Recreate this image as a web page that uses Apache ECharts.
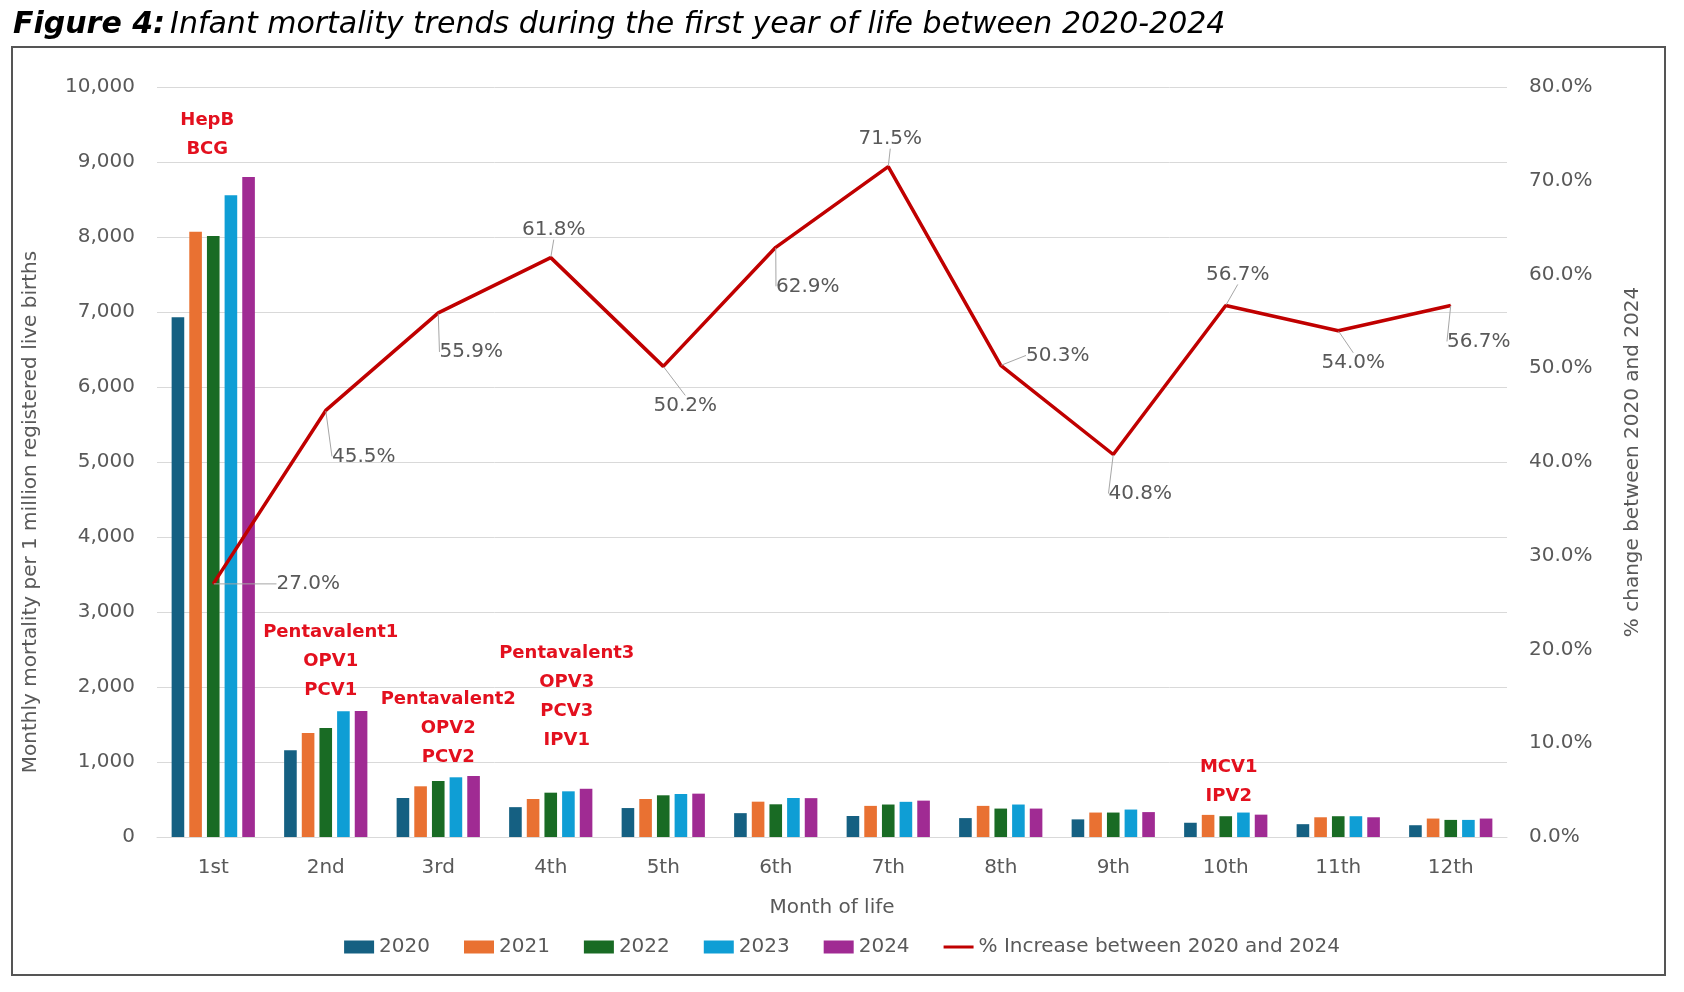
<!DOCTYPE html>
<html>
<head>
<meta charset="utf-8">
<script src="https://cdn.jsdelivr.net/npm/echarts@6/dist/echarts.min.js"></script>
<style>
  html, body { margin: 0; padding: 0; background: #fff; }
  #chart { width: 1684px; height: 992px; }
</style>
</head>
<body>
<div id="chart"></div>
<script>
// Months of life
var months = ['1st', '2nd', '3rd', '4th', '5th', '6th', '7th', '8th', '9th', '10th', '11th', '12th'];

// Monthly mortality per 1 million registered live births
var y2020 = [6930, 1158, 520, 398, 386, 318, 280, 252, 235, 190, 171, 157];
var y2021 = [8070, 1387, 676, 507, 507, 471, 415, 415, 326, 295, 263, 246];
var y2022 = [8014, 1453, 747, 591, 556, 436, 433, 379, 326, 277, 277, 228];
var y2023 = [8557, 1676, 796, 609, 573, 520, 469, 433, 366, 326, 277, 228];
var y2024 = [8800, 1680, 813, 643, 578, 518, 485, 379, 332, 298, 263, 246];

// % increase between 2020 and 2024
var pctIncrease = [27.0, 45.5, 55.9, 61.8, 50.2, 62.9, 71.5, 50.3, 40.8, 56.7, 54.0, 56.7];

// vaccine annotations: month, text, height on the left axis
var vaccineMonths = ['1st', '2nd', '3rd', '4th', '10th'];
var vaccineTexts = ['HepB\nBCG', 'Pentavalent1\nOPV1\nPCV1', 'Pentavalent2\nOPV2\nPCV2', 'Pentavalent3\nOPV3\nPCV3\nIPV1', 'MCV1\nIPV2'];
var vaccineLevels = [9360, 2347, 1453, 1867, 733];

// layout only: label nudges (px)
var vaccineShift = [-6, 5, 10, 16, 3];
var pctLabelShift = [[95, 0], [38, 46], [33, 39], [3, -28], [22, 39], [32, 39], [2, -28], [57, -10], [27, 39], [12, -31], [15, 32], [28, 36]];

var grey = '#595959';
var font = 'DejaVu Sans';

var chart = echarts.init(document.getElementById('chart'));

function barSeries(name, data, color) {
    return {
        name: name,
        type: 'bar',
        data: data,
        barGap: '40%',
        barCategoryGap: '26%',
        itemStyle: { color: color }
    };
}

var annotations = vaccineMonths.map(function (m, i) {
    return {
        coord: [m, vaccineLevels[i]],
        value: vaccineTexts[i],
        label: { offset: [vaccineShift[i], 0] }
    };
});

var series = [
    barSeries('2020', y2020, '#156082'),
    barSeries('2021', y2021, '#E97132'),
    barSeries('2022', y2022, '#196B24'),
    barSeries('2023', y2023, '#0F9ED5'),
    barSeries('2024', y2024, '#A02B93'),
    {
        name: '% Increase between 2020 and 2024',
        type: 'line',
        yAxisIndex: 1,
        data: pctIncrease,
        symbol: 'circle',
        symbolSize: 1,
        lineStyle: { color: '#C00000', width: 3.5 },
        itemStyle: { color: '#C00000' },
        label: {
            show: true,
            position: 'inside',
            color: grey,
            fontFamily: font,
            fontSize: 20,
            formatter: function (p) { return p.value.toFixed(1) + '%'; }
        },
        labelLine: { show: true, lineStyle: { color: '#a6a6a6', width: 1 } },
        labelLayout: function (p) {
            var s = pctLabelShift[p.dataIndex];
            return { dx: s[0], dy: s[1] };
        },
        z: 5
    }
];

// vaccine labels hang on the 2022 series
series[2].markPoint = {
    symbol: 'rect',
    symbolSize: 1,
    itemStyle: { color: 'rgba(0,0,0,0)' },
    label: {
        show: true,
        position: 'inside',
        color: '#E3101E',
        fontFamily: font,
        fontWeight: 'bold',
        fontSize: 18,
        lineHeight: 29,
        formatter: function (p) { return p.value; }
    },
    data: annotations
};

var option = {
    backgroundColor: '#fff',
    animation: false,
    title: {
        left: 8,
        top: 5,
        text: '{b|Figure 4:} {i|Infant mortality trends during the first year of life between 2020-2024}',
        textStyle: {
            rich: {
                b: { fontFamily: font, fontStyle: 'italic', fontWeight: 'bold', fontSize: 30, color: '#000' },
                i: { fontFamily: font, fontStyle: 'italic', fontWeight: 'normal', fontSize: 30, color: '#000' }
            }
        }
    },
    graphic: [{
        type: 'rect',
        shape: { x: 12, y: 47, width: 1653, height: 928 },
        style: { fill: 'none', stroke: '#555', lineWidth: 2 },
        silent: true
    }],
    legend: {
        left: 'center',
        top: 932,
        itemWidth: 30,
        itemHeight: 13,
        itemGap: 34,
        textStyle: { color: grey, fontFamily: font, fontSize: 20 },
        data: [
            { name: '2020', icon: 'rect' },
            { name: '2021', icon: 'rect' },
            { name: '2022', icon: 'rect' },
            { name: '2023', icon: 'rect' },
            { name: '2024', icon: 'rect' },
            { name: '% Increase between 2020 and 2024', icon: 'path://M0,0h0.01v0.01h-0.01z M0,5h30v3h-30z M0,13h0.01v0.01h-0.01z' }
        ]
    },
    grid: { left: 157, right: 177, top: 87, bottom: 155 },
    xAxis: {
        type: 'category',
        data: months,
        name: 'Month of life',
        nameLocation: 'middle',
        nameGap: 61,
        nameTextStyle: { color: grey, fontFamily: font, fontSize: 20 },
        axisLine: { lineStyle: { color: '#d9d9d9' } },
        axisTick: { show: false },
        axisLabel: { color: grey, fontFamily: font, fontSize: 20, margin: 21 }
    },
    yAxis: [
        {
            type: 'value',
            min: 0,
            max: 10000,
            interval: 1000,
            name: 'Monthly mortality per 1 million registered live births',
            nameLocation: 'middle',
            nameGap: 116,
            nameRotate: 90,
            nameTextStyle: { color: grey, fontFamily: font, fontSize: 20, padding: [0, 100, 0, 0] },
            axisLine: { show: false },
            axisTick: { show: false },
            axisLabel: {
                color: grey, fontFamily: font, fontSize: 20, margin: 22,
                formatter: function (v) { return v.toLocaleString('en-US'); }
            },
            splitLine: { lineStyle: { color: '#d9d9d9' } }
        },
        {
            type: 'value',
            min: 0,
            max: 80,
            interval: 10,
            name: '% change between 2020 and 2024',
            nameLocation: 'middle',
            nameGap: 116,
            nameRotate: 90,
            nameTextStyle: { color: grey, fontFamily: font, fontSize: 20 },
            axisLine: { show: false },
            axisTick: { show: false },
            axisLabel: {
                color: grey, fontFamily: font, fontSize: 20, margin: 22,
                formatter: function (v) { return v.toFixed(1) + '%'; }
            },
            splitLine: { show: false }
        }
    ],
    series: series
};

chart.setOption(option);
</script>
</body>
</html>
